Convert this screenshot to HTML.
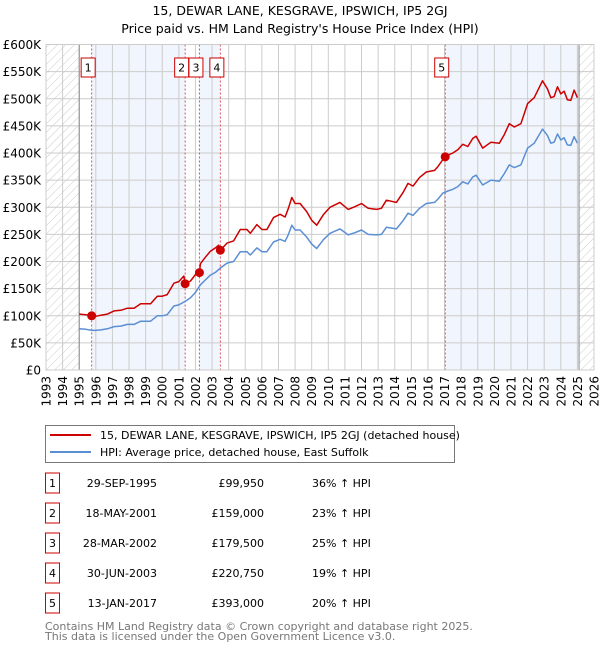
<!DOCTYPE html>
<html><head><meta charset="utf-8"><style>
body{margin:0;background:#fff;font-family:"DejaVu Sans","Liberation Sans",sans-serif;}
svg text{font-family:"DejaVu Sans","Liberation Sans",sans-serif;}
</style></head><body>
<svg id="chart" width="600" height="650" viewBox="0 0 600 650" xmlns="http://www.w3.org/2000/svg">
<defs>
<pattern id="hatch" width="6" height="6" patternUnits="userSpaceOnUse" patternTransform="rotate(45)"><line x1="0" y1="0" x2="0" y2="6" stroke="#ccc" stroke-width="1"/></pattern>
</defs>
<text x="300" y="15" text-anchor="middle" font-size="12.5" fill="#000">15, DEWAR LANE, KESGRAVE, IPSWICH, IP5 2GJ</text>
<text x="300" y="33" text-anchor="middle" font-size="12.5" fill="#000">Price paid vs. HM Land Registry's House Price Index (HPI)</text>
<g id="plot"></g>
<g>
<rect x="45.5" y="425.5" width="409" height="37" fill="#fff" stroke="#777"/>
<line x1="50" y1="435" x2="91" y2="435" stroke="#cc0000" stroke-width="2"/>
<text x="100" y="439" font-size="11">15, DEWAR LANE, KESGRAVE, IPSWICH, IP5 2GJ (detached house)</text>
<line x1="50" y1="452" x2="91" y2="452" stroke="#5b8fd4" stroke-width="2"/>
<text x="100" y="456" font-size="11">HPI: Average price, detached house, East Suffolk</text>
</g>
<g id="table"></g>
<text x="45" y="630" font-size="11" fill="#777">Contains HM Land Registry data © Crown copyright and database right 2025.</text>
<text x="45" y="640" font-size="11" fill="#777">This data is licensed under the Open Government Licence v3.0.</text>
</svg>
<script>
const hpiYears=[1995.0,1995.4,1995.75,1996.0,1996.3,1996.7,1997.1,1997.5,1997.9,1998.3,1998.7,1999.0,1999.3,1999.7,2000.0,2000.3,2000.7,2001.0,2001.4,2001.7,2002.0,2002.3,2002.6,2002.9,2003.2,2003.5,2003.9,2004.3,2004.7,2005.1,2005.3,2005.7,2006.0,2006.3,2006.7,2007.1,2007.4,2007.6,2007.8,2008.0,2008.3,2008.7,2009.0,2009.3,2009.7,2010.1,2010.7,2011.2,2011.6,2012.0,2012.4,2012.9,2013.2,2013.5,2014.1,2014.5,2014.8,2015.1,2015.5,2015.9,2016.4,2016.6,2016.9,2017.2,2017.5,2017.8,2018.1,2018.4,2018.7,2018.9,2019.3,2019.8,2020.3,2020.6,2020.9,2021.2,2021.6,2022.0,2022.4,2022.9,2023.2,2023.4,2023.6,2023.8,2024.0,2024.2,2024.4,2024.6,2024.8,2025.0];
const hpiValues=[76,75,73,73,74,76,80,81,84,84,90,90,90,100,100,102,118,120,127,133,143,157,166,175,180,188,197,200,218,218,212,225,218,218,236,241,237,250,267,258,258,245,232,224,240,252,260,249,253,258,250,249,250,263,260,275,289,285,298,307,309,315,326,330,333,338,347,343,356,359,341,350,348,362,378,373,378,409,418,444,432,418,420,435,424,428,415,414,430,418];
const propYears=[1995.0,1995.4,1995.75,1996.0,1996.3,1996.7,1997.1,1997.5,1997.9,1998.3,1998.7,1999.0,1999.3,1999.7,2000.0,2000.3,2000.7,2001.0,2001.3,2001.38,2001.7,2002.0,2002.24,2002.3,2002.6,2002.9,2003.2,2003.4,2003.5,2003.9,2004.3,2004.7,2005.1,2005.3,2005.7,2006.0,2006.3,2006.7,2007.1,2007.4,2007.6,2007.8,2008.0,2008.3,2008.7,2009.0,2009.3,2009.7,2010.1,2010.7,2011.2,2011.6,2012.0,2012.4,2012.9,2013.2,2013.5,2014.1,2014.5,2014.8,2015.1,2015.5,2015.9,2016.4,2016.6,2016.9,2017.04,2017.2,2017.5,2017.8,2018.1,2018.4,2018.7,2018.9,2019.3,2019.8,2020.3,2020.6,2020.9,2021.2,2021.6,2022.0,2022.4,2022.9,2023.2,2023.4,2023.6,2023.8,2024.0,2024.2,2024.4,2024.6,2024.8,2025.0];
const propValues=[103,102,99.95,99,101,103,109,110,114,114,122,122,122,136,136,139,160,163,173,159,164,176,179.5,196,208,219,225,230,220.75,234,238,259,259,252,268,259,259,281,287,282,298,318,307,307,292,276,267,286,300,309,296,301,307,298,296,298,313,309,327,344,339,355,365,368,375,388,393,396,400,406,416,412,427,431,409,420,418,434,454,448,454,491,502,533,518,502,504,522,509,514,498,497,516,502];
const saleLabels=["1","2","3","4","5"];
const saleYears=[1995.75,2001.38,2002.24,2003.5,2017.04];
const saleValues=[99.95,159,179.5,220.75,393];
const saleDates=["29-SEP-1995","18-MAY-2001","28-MAR-2002","30-JUN-2003","13-JAN-2017"];
const salePrices=["£99,950","£159,000","£179,500","£220,750","£393,000"];
const saleHpi=["36% ↑ HPI","23% ↑ HPI","25% ↑ HPI","19% ↑ HPI","20% ↑ HPI"];
const yTicks=[0,50,100,150,200,250,300,350,400,450,500,550,600];
const yTickLabels=["£0","£50K","£100K","£150K","£200K","£250K","£300K","£350K","£400K","£450K","£500K","£550K","£600K"];
const xTicks=[1993,1994,1995,1996,1997,1998,1999,2000,2001,2002,2003,2004,2005,2006,2007,2008,2009,2010,2011,2012,2013,2014,2015,2016,2017,2018,2019,2020,2021,2022,2023,2024,2025,2026];
const dataStart=1995.0, dataEnd=2025.1;

const NS="http://www.w3.org/2000/svg";
const X0=46,X1=594,Y0=370,Y1=44.5,YMIN=1993,YMAX=2026,VMAX=600;
function sx(y){return X0+(y-YMIN)/(YMAX-YMIN)*(X1-X0);}
function sy(v){return Y0-(v/VMAX)*(Y0-Y1);}
function mk(tag,attrs,parent){const e=document.createElementNS(NS,tag);for(const k in attrs)e.setAttribute(k,attrs[k]);parent.appendChild(e);return e;}
const plot=document.getElementById('plot');

// shaded bands
for(let i=0;i<saleYears.length;i+=2){
  const a=saleYears[i],b=(i+1<saleYears.length)?saleYears[i+1]:dataEnd;
  const r=mk('rect',{x:sx(a),y:Y1,width:sx(b)-sx(a),height:Y0-Y1,fill:'#eef3fc',opacity:0.8},plot);
  
  
}
// hatch
let h1=mk('rect',{x:X0,y:Y1,width:sx(dataStart)-X0,height:Y0-Y1,fill:'url(#hatch)'},plot);


let h2=mk('rect',{x:sx(dataEnd),y:Y1,width:X1-sx(dataEnd),height:Y0-Y1,fill:'url(#hatch)'},plot);



// grid
xTicks.forEach(t=>{
  const l=mk('line',{x1:sx(t),x2:sx(t),y1:Y1,y2:Y0,stroke:'#ccc','stroke-width':1},plot);
  
  
  const tx=mk('text',{x:0,y:0,'font-size':12,'text-anchor':'end',transform:`translate(${sx(t)+4.5},${Y0+6}) rotate(-90)`},plot);
  tx.textContent=t;
  
  
});
yTicks.forEach((t,i)=>{
  const l=mk('line',{x1:X0,x2:X1,y1:sy(t),y2:sy(t),stroke:'#ccc','stroke-width':1},plot);
  
  
  const tx=mk('text',{x:41,y:sy(t)+4.5,'font-size':12,'text-anchor':'end'},plot);
  tx.textContent=yTickLabels[i];
  
  
});
[dataStart,dataEnd].forEach(t=>{
  const l=mk('line',{x1:sx(t),x2:sx(t),y1:Y1,y2:Y0,stroke:'#888','stroke-width':1},plot);
  
  
});
// sale lines
saleYears.forEach((y,i)=>{
  const l=mk('line',{x1:sx(y),x2:sx(y),y1:Y1,y2:Y0,stroke:'#e05050','stroke-width':1,'stroke-dasharray':'2,2'},plot);
  
  
});
function path(xs,vs,color,name){
  const d=xs.map((x,i)=>(i?'L':'M')+sx(x).toFixed(1)+','+sy(vs[i]).toFixed(1)).join('');
  const p=mk('path',{d:d,fill:'none',stroke:color,'stroke-width':1.5,'stroke-linejoin':'round'},plot);
  
  
}
path(hpiYears,hpiValues,'#5b8fd4','hpi-line');
path(propYears,propValues,'#cc0000','property-price-line');
saleYears.forEach((y,i)=>{
  const c=mk('circle',{cx:sx(y),cy:sy(saleValues[i]),r:4.5,fill:'#cc0000'},plot);
  
  
  const g=mk('g',{},plot);
  
  
  mk('rect',{x:sx(y)-10.5,y:58,width:14,height:19,fill:'#fff',stroke:'#cc0000','stroke-width':1},g);
  const t=mk('text',{x:sx(y)-3.5,y:71.5,'font-size':11,'text-anchor':'middle'},g);
  t.textContent=saleLabels[i];
});
mk('rect',{x:X0,y:Y1,width:X1-X0,height:Y0-Y1,fill:'none',stroke:'#ccc'},plot);

// table
const tbl=document.getElementById('table');
saleLabels.forEach((lab,i)=>{
  const cy=483+i*30;
  const g=mk('g',{},tbl);
  
  
  mk('rect',{x:45.5,y:cy-10,width:14,height:20,fill:'#fff',stroke:'#cc0000'},g);
  let t=mk('text',{x:52.5,y:cy+4,'font-size':11,'text-anchor':'middle'},g);t.textContent=lab;
  t=mk('text',{x:157,y:cy+4,'font-size':11,'text-anchor':'end'},g);t.textContent=saleDates[i];
  t=mk('text',{x:264,y:cy+4,'font-size':11,'text-anchor':'end'},g);t.textContent=salePrices[i];
  t=mk('text',{x:312,y:cy+4,'font-size':11},g);t.textContent=saleHpi[i];
});
</script>
</body></html>
